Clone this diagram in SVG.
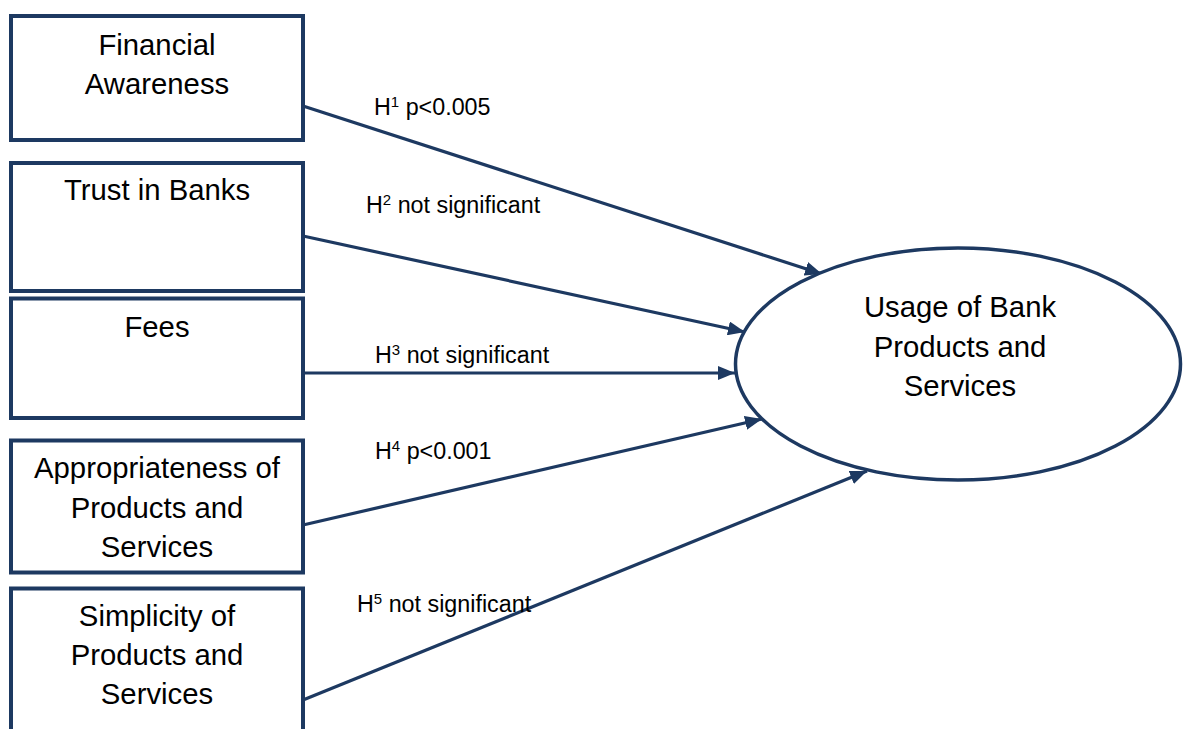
<svg xmlns="http://www.w3.org/2000/svg" width="1184" height="729" viewBox="0 0 1184 729">
<defs>
<style>
.box{fill:#fff;stroke:#1d3961;stroke-width:4}
.ell{fill:#fff;stroke:#1d3961;stroke-width:3.5}
.lbl{font-family:"Liberation Sans",Arial,sans-serif;font-size:29.3px;fill:#000;text-anchor:middle}
.hyp{font-family:"Liberation Sans",Arial,sans-serif;font-size:23.3px;fill:#000}
.sup{font-size:15px}
.conn{stroke:#1d3961;stroke-width:3.2;fill:none;marker-end:url(#ah)}
</style>
<marker id="ah" markerUnits="userSpaceOnUse" markerWidth="18" markerHeight="14" viewBox="0 0 18 14" refX="17" refY="7" orient="auto">
<path d="M0,0 L17,7 L0,14 Z" fill="#1d3961"/>
</marker>
</defs>
<rect width="1184" height="729" fill="#fff"/>
<g id="connectors">
<line class="conn" x1="303" y1="106" x2="822" y2="274"/>
<line class="conn" x1="303" y1="236" x2="745" y2="332"/>
<line class="conn" x1="303" y1="373" x2="735" y2="373"/>
<line class="conn" x1="303" y1="525" x2="762" y2="419"/>
<line class="conn" x1="303" y1="700" x2="867" y2="471"/>
</g>
<g id="labels">
<text class="hyp" x="374" y="115">H<tspan class="sup" dy="-8">1</tspan><tspan dy="8"> p&lt;0.005</tspan></text>
<text class="hyp" x="366" y="213">H<tspan class="sup" dy="-8">2</tspan><tspan dy="8"> not significant</tspan></text>
<text class="hyp" x="375" y="363">H<tspan class="sup" dy="-8">3</tspan><tspan dy="8"> not significant</tspan></text>
<text class="hyp" x="375" y="459">H<tspan class="sup" dy="-8">4</tspan><tspan dy="8"> p&lt;0.001</tspan></text>
<text class="hyp" x="357" y="612">H<tspan class="sup" dy="-8">5</tspan><tspan dy="8"> not significant</tspan></text>
</g>
<g id="financial-awareness">
<rect class="box" x="11" y="16" width="292" height="124"/>
<text class="lbl" x="157" y="55">Financial</text>
<text class="lbl" x="157" y="94">Awareness</text>
</g>
<g id="trust-in-banks">
<rect class="box" x="11" y="163" width="292" height="128"/>
<text class="lbl" x="157" y="200">Trust in Banks</text>
</g>
<g id="fees">
<rect class="box" x="11" y="298.5" width="292" height="119.5"/>
<text class="lbl" x="157" y="337">Fees</text>
</g>
<g id="appropriateness">
<rect class="box" x="11" y="440.5" width="292" height="132"/>
<text class="lbl" x="157" y="478">Appropriateness of</text>
<text class="lbl" x="157" y="517.5">Products and</text>
<text class="lbl" x="157" y="556.5">Services</text>
</g>
<g id="simplicity">
<rect class="box" x="11" y="588.5" width="292" height="160"/>
<text class="lbl" x="157" y="626">Simplicity of</text>
<text class="lbl" x="157" y="665">Products and</text>
<text class="lbl" x="157" y="704">Services</text>
</g>
<g id="usage">
<ellipse class="ell" cx="958" cy="364" rx="222.5" ry="116"/>
<text class="lbl" x="960" y="317">Usage of Bank</text>
<text class="lbl" x="960" y="356.5">Products and</text>
<text class="lbl" x="960" y="396">Services</text>
</g>
</svg>
